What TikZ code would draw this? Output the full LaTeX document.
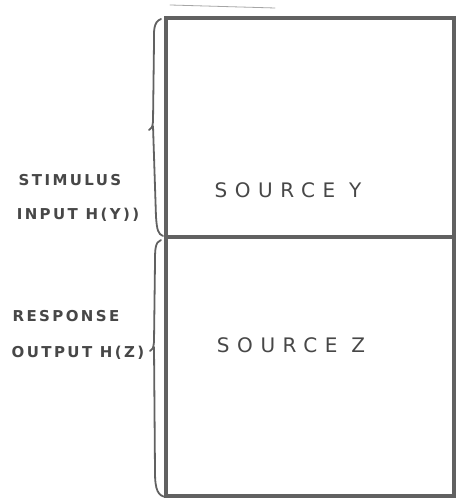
\documentclass[tikz,border=0pt]{standalone}
\usepackage{fontspec}
\setmainfont{DejaVu Sans}
\begin{document}
\begin{tikzpicture}[x=1pt,y=1pt,
  ink/.style={draw=black!62, line width=3.2pt},
  inkthin/.style={draw=black!62, line width=1.8pt, line cap=round},
  box/.style={ink, minimum width=288pt, inner sep=0pt, fill=none},
  lbl/.style={text=black!72, font=\bfseries\fontsize{15}{16}\selectfont\addfontfeatures{LetterSpace=16}, inner sep=0pt},
  biglbl/.style={text=black!72, font=\fontsize{20}{21}\selectfont\addfontfeatures{LetterSpace=38}, inner sep=0pt}
]
\useasboundingbox (0,0) rectangle (456,502);
\fill[white] (0,0) rectangle (456,502);
% boxes
\node[box, minimum height=219pt] (boxY) at (310,374.5) {};
\node[box, minimum height=259pt] (boxZ) at (310,135.5) {};
% texts
\node[biglbl] (srcY) at (288,312) {SOURCE Y};
\node[biglbl] (srcZ) at (291,157) {SOURCE Z};
\node[lbl] (stim) at (70,322) {STIMULUS};
\node[lbl] (inp) at (78,287) {INPUT H(Y))};
\node[lbl] (resp) at (66,186) {RESPONSE};
\node[lbl] (outp) at (78,149) {OUTPUT H(Z)};
% brackets
\coordinate (b1t) at (161,483);
\coordinate (b1b) at (163,266);
\coordinate (b2t) at (161,262);
\coordinate (b2b) at (166,5);
\draw[inkthin] (b1t) .. controls (153,480) and (154,470) .. (154,460)
  -- (153,380) .. controls (152,374) .. (149,372)
  (153,376) -- (156,285) .. controls (157,272) and (158,268) .. (b1b);
\draw[inkthin] (b2t) .. controls (155,260) and (155,252) .. (155,240)
  -- (154,160) .. controls (153,153) .. (150,151)
  (154,155) -- (155,30) .. controls (155,12) and (158,6) .. (b2b);
\draw[inkthin, black!35, line width=0.8pt] (170,497) -- (275,494);
\end{tikzpicture}
\end{document}
